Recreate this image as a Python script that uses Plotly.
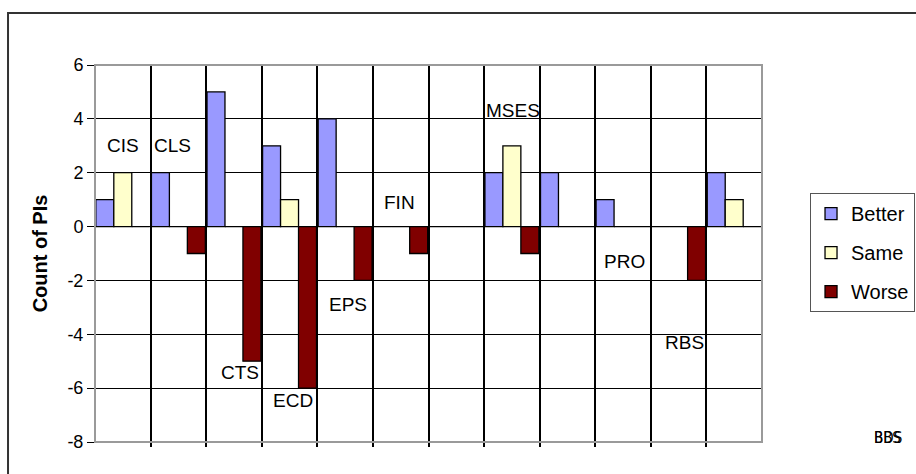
import plotly.graph_objects as go

# Category slots along the x axis (12 groups)
slots = list(range(12))

# Count of PIs per series in each slot
better = [1, 2, 5, 3, 4, 0, 0, 2, 2, 1, 0, 2]
same = [2, 0, 0, 1, 0, 0, 0, 3, 0, 0, 0, 1]
worse = [0, -1, -5, -6, -2, -1, 0, -1, 0, 0, -2, 0]

y_ticks = [-8, -6, -4, -2, 0, 2, 4, 6]

# Unit names written inside the plot area
unit_names = ["CIS", "CLS", "CTS", "ECD", "EPS", "FIN", "MSES", "PRO", "RBS"]
# where each name sits, in axis units (x slot, y count)
name_spots = [(0.0, 3.0), (0.9, 3.0), (2.1, -5.43), (3.06, -6.47), (4.05, -2.88),
              (4.97, 0.91), (7.02, 4.31), (9.02, -1.31), (10.1, -4.32)]

# Names that fall outside the plot, stacked at the lower right
outside_names = ["BBS", "BDS"]

FONT = "Liberation Sans, Arial, sans-serif"
NARROW = "Liberation Sans Narrow, DejaVu Sans Condensed, Arial Narrow, sans-serif"

fig = go.Figure()
for name, vals, col in [("Better", better, "#9999FF"),
                        ("Same", same, "#FFFFCC"),
                        ("Worse", worse, "#800000")]:
    fig.add_trace(go.Bar(
        x=slots, y=vals, name=name, legendgroup=name,
        marker=dict(color=col, line=dict(color="black", width=1.3)),
    ))

for txt, (xx, yy) in zip(unit_names, name_spots):
    fig.add_annotation(x=xx, y=yy, xref="x", yref="y", text=txt, showarrow=False,
                       font=dict(family=FONT, size=19, color="black"))

for k, txt in enumerate(outside_names):
    fig.add_annotation(x=1.211 + 0.002 * k, y=-0.018, xref="paper", yref="paper",
                       text=txt, showarrow=False,
                       font=dict(family=NARROW, size=15, color="black"))

# plot frame: grey edges
fig.add_shape(type="rect", xref="paper", yref="paper", x0=0, x1=1, y0=0, y1=1,
              line=dict(color="#9a9a9a", width=2), layer="above")
# outer chart border
fig.add_shape(type="rect", xref="paper", yref="paper",
              x0=-0.1304, x1=1.6, y0=-0.4, y1=1.1379,
              line=dict(color="#333333", width=2))

fig.update_layout(
    width=916, height=474,
    margin=dict(l=95, r=154, t=65, b=32, autoexpand=False),
    paper_bgcolor="white", plot_bgcolor="white",
    barmode="group", bargap=0.03, bargroupgap=0,
    font=dict(family=FONT, color="black"),
    showlegend=True,
    legend=dict(x=1.072, y=0.66, xanchor="left", yanchor="top",
                bgcolor="white", bordercolor="#555555", borderwidth=1,
                font=dict(family=FONT, size=20, color="black"),
                tracegroupgap=10, itemwidth=30),
    xaxis=dict(range=[-0.5, 11.5], tickvals=[i + 0.5 for i in slots[:-1]],
               showticklabels=False, showgrid=True, gridcolor="black", gridwidth=1.5,
               ticks="outside", ticklen=4, tickcolor="black", tickwidth=1.5,
               zeroline=False, showline=False),
    yaxis=dict(range=[-8, 6], tickvals=y_ticks, ticktext=[str(v) for v in y_ticks],
               showgrid=True, gridcolor="black", gridwidth=1,
               zeroline=True, zerolinecolor="black", zerolinewidth=1,
               showline=True, linecolor="black", linewidth=1,
               ticks="outside", ticklen=7, tickcolor="black",
               tickfont=dict(family=FONT, size=18, color="black"),
               title=dict(text="<b>Count of PIs</b>", standoff=14,
                          font=dict(family=FONT, size=20, color="black"))),
)

fig.write_html("out.html")
